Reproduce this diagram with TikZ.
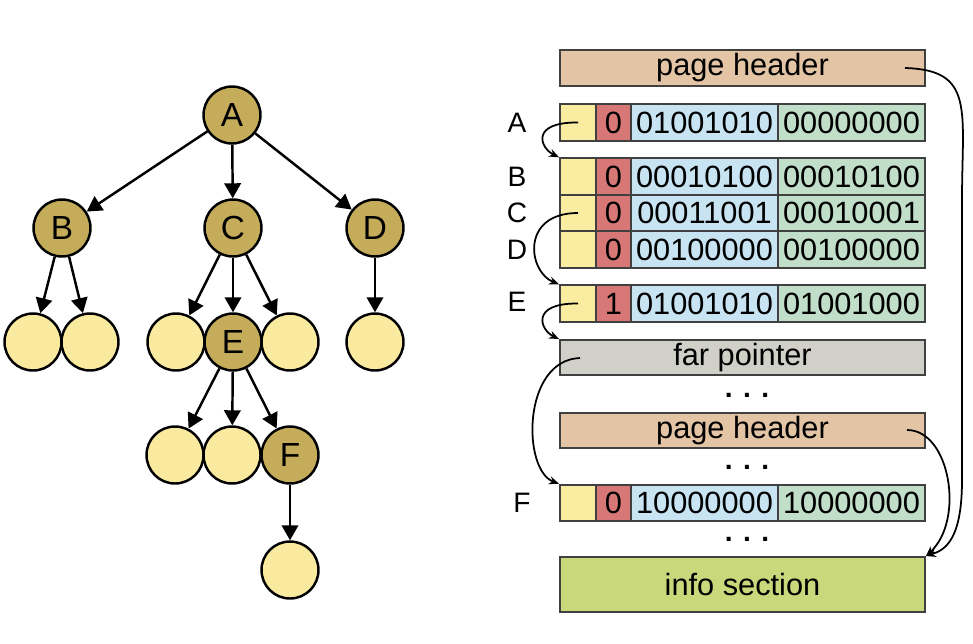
\documentclass[tikz,border=0pt]{standalone}
\usepackage{fontspec}
\setmainfont{Liberation Sans}
\usetikzlibrary{arrows.meta}
\definecolor{knot}{RGB}{196,172,90}
\definecolor{leafc}{RGB}{250,234,160}
\definecolor{ycell}{RGB}{250,236,160}
\definecolor{rcell}{RGB}{216,120,118}
\definecolor{bcell}{RGB}{200,228,242}
\definecolor{gcell}{RGB}{192,222,200}
\definecolor{tanc}{RGB}{227,196,165}
\definecolor{grayc}{RGB}{208,207,200}
\definecolor{infoc}{RGB}{200,216,122}
\definecolor{boxline}{RGB}{64,64,64}
\begin{document}
\begin{tikzpicture}[x=0.02cm,y=-0.02cm,
  inner/.style={circle, draw, line width=1.4pt, fill=knot, minimum size=1.14cm, inner sep=0pt, font=\fontsize{19}{19}\selectfont},
  leaf/.style={inner, fill=leafc},
  edge/.style={line width=1.4pt, -{Triangle[length=3mm,width=3.3mm]}},
  cell/.style={draw=boxline, line width=1.1pt, minimum height=0.73cm, inner sep=0pt, font=\fontsize{17.5}{17.5}\selectfont},
  lbl/.style={font=\fontsize{16}{16}\selectfont},
  dots/.style={inner sep=0pt, font=\fontsize{16}{16}\selectfont\bfseries},
  ptr/.style={line width=1pt, -{Stealth[length=2mm,width=1.6mm]}}]
\useasboundingbox (0,0) rectangle (973,643);
% tree
\node[inner] (tA) at (232,115){A};
\node[inner] (tB) at (62,228){B};
\node[inner] (tC) at (233,228){C};
\node[inner] (tD) at (375,228){D};
\node[leaf] (tB1) at (33,342){};
\node[leaf] (tB2) at (90,342){};
\node[leaf] (tC1) at (176,342){};
\node[leaf] (tC3) at (290,342){};
\node[inner] (tE) at (233,342){E};
\node[leaf] (tD1) at (375,342){};
\node[leaf] (tE1) at (175,455){};
\node[leaf] (tE2) at (232,455){};
\node[inner] (tF) at (290,455){F};
\node[leaf] (tF1) at (290,570){};
\draw[edge](tA) -- (tB);
\draw[edge](tA) -- (tC);
\draw[edge](tA) -- (tD);
\draw[edge](tB) -- (tB1);
\draw[edge](tB) -- (tB2);
\draw[edge](tC) -- (tC1);
\draw[edge](tC) -- (tE);
\draw[edge](tC) -- (tC3);
\draw[edge](tD) -- (tD1);
\draw[edge](tE) -- (tE1);
\draw[edge](tE) -- (tE2);
\draw[edge](tE) -- (tF);
\draw[edge](tF) -- (tF1);
% page
\node[cell, fill=tanc, minimum width=7.3cm, minimum height=0.72cm] (hd1) at (742.5,68){page header};
\node[cell, fill=ycell, minimum width=0.72cm] (yA) at (578,122.5){};
\node[cell, fill=rcell, minimum width=0.70cm] (rA) at (613.5,122.5){0};
\node[cell, fill=bcell, minimum width=2.94cm] (bA) at (704.5,122.5){01001010};
\node[cell, fill=gcell, minimum width=2.94cm] (gA) at (851.5,122.5){00000000};
\node[cell, fill=ycell, minimum width=0.72cm] (yB) at (578,176.5){};
\node[cell, fill=rcell, minimum width=0.70cm] (rB) at (613.5,176.5){0};
\node[cell, fill=bcell, minimum width=2.94cm] (bB) at (704.5,176.5){00010100};
\node[cell, fill=gcell, minimum width=2.94cm] (gB) at (851.5,176.5){00010100};
\node[cell, fill=ycell, minimum width=0.72cm] (yC) at (578,213){};
\node[cell, fill=rcell, minimum width=0.70cm] (rC) at (613.5,213){0};
\node[cell, fill=bcell, minimum width=2.94cm] (bC) at (704.5,213){00011001};
\node[cell, fill=gcell, minimum width=2.94cm] (gC) at (851.5,213){00010001};
\node[cell, fill=ycell, minimum width=0.72cm] (yD) at (578,249.5){};
\node[cell, fill=rcell, minimum width=0.70cm] (rD) at (613.5,249.5){0};
\node[cell, fill=bcell, minimum width=2.94cm] (bD) at (704.5,249.5){00100000};
\node[cell, fill=gcell, minimum width=2.94cm] (gD) at (851.5,249.5){00100000};
\node[cell, fill=ycell, minimum width=0.72cm] (yE) at (578,303.5){};
\node[cell, fill=rcell, minimum width=0.70cm] (rE) at (613.5,303.5){1};
\node[cell, fill=bcell, minimum width=2.94cm] (bE) at (704.5,303.5){01001010};
\node[cell, fill=gcell, minimum width=2.94cm] (gE) at (851.5,303.5){01001000};
\node[cell, fill=grayc, minimum width=7.3cm, minimum height=0.70cm] (fp) at (742.5,357.5){far pointer};
\node[dots] (dots1) at (747,395){. . .};
\node[cell, fill=tanc, minimum width=7.3cm, minimum height=0.70cm] (hd2) at (742.5,430.5){page header};
\node[dots] (dots2) at (747,467){. . .};
\node[cell, fill=ycell, minimum width=0.72cm] (yF) at (578,503){};
\node[cell, fill=rcell, minimum width=0.70cm] (rF) at (613.5,503){0};
\node[cell, fill=bcell, minimum width=2.94cm] (bF) at (704.5,503){10000000};
\node[cell, fill=gcell, minimum width=2.94cm] (gF) at (851.5,503){10000000};
\node[dots] (dots3) at (747,539){. . .};
\node[cell, fill=infoc, minimum width=7.3cm, minimum height=1.1cm] (info) at (742.5,584.5){info section};
% row labels
\node[lbl] (lA) at (517,123){A};
\node[lbl] (lB) at (517,177){B};
\node[lbl] (lC) at (517,213){C};
\node[lbl] (lD) at (517,250){D};
\node[lbl] (lE) at (517,302){E};
\node[lbl] (lF) at (522,503){F};
% pointers
\coordinate (fpo) at (580,358);
\coordinate (h1o) at (905,68);
\coordinate (h2o) at (907,430);
\draw[ptr](yA.center) .. controls (530,122) and (540,148) .. (yB.north west);
\draw[ptr](yC.center) .. controls (520,213) and (528,272) .. (yE.north west);
\draw[ptr](yE.center) .. controls (530,303) and (540,330) .. (fp.north west);
\draw[ptr](fpo) .. controls (522,360) and (522,470) .. (yF.north west);
\draw[ptr](h1o) .. controls (975,70) and (962,110) .. (962,200) -- (962,480) .. controls (962,540) and (945,550) .. (info.north east);
\draw[ptr](h2o) .. controls (950,430) and (965,520) .. (info.north east);
\end{tikzpicture}
\end{document}
